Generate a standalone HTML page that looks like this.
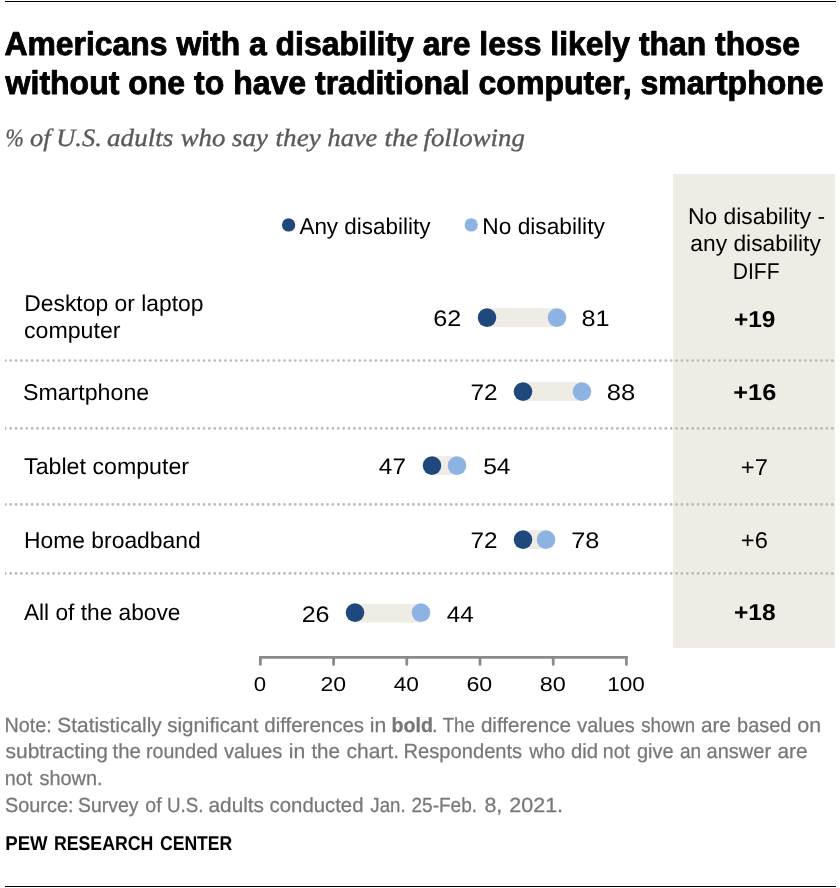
<!DOCTYPE html>
<html>
<head>
<meta charset="utf-8">
<title>Americans with a disability are less likely than those without one to have traditional computer, smartphone</title>
<style>
  html, body { margin: 0; padding: 0; background: #ffffff; }
  body { width: 840px; height: 888px; overflow: hidden; font-family: "Liberation Sans", sans-serif; }
  svg { display: block; will-change: transform; }
  text { font-family: "Liberation Sans", sans-serif; text-rendering: geometricPrecision; }
  .title { font-weight: bold; font-size: 33px; fill: #000000; stroke: #000000; stroke-width: 0.9px; stroke-linejoin: round; }
  .sub { font-family: "Liberation Serif", serif; font-style: italic; font-size: 25px; fill: #595959; stroke: #595959; stroke-width: 0.35px; }
  .lbl { font-size: 22.8px; fill: #000000; }
  .num { font-size: 22.5px; fill: #000000; }
  .tick { font-size: 20px; fill: #000000; }
  .diffb { font-size: 22.9px; font-weight: bold; fill: #000000; }
  .diff { font-size: 22.9px; fill: #000000; }
  .note { font-size: 20.5px; fill: #777777; stroke: #777777; stroke-width: 0.25px; }
  .pew { font-size: 19.9px; font-weight: bold; fill: #000000; }
</style>
</head>
<body>
<svg width="840" height="888" viewBox="0 0 840 888">
  <!-- top & bottom rules -->
  <rect x="5" y="1" width="831" height="1" fill="#000000"/>
  <rect x="5" y="886" width="831" height="1" fill="#000000"/>

  <!-- DIFF panel -->
  <rect x="673" y="174" width="162" height="474" fill="#efece5"/>

  <!-- dotted row separators -->
  <clipPath id="dotclip"><rect x="4.9" y="350" width="832" height="240"/></clipPath>
  <g stroke="#b7b7b7" stroke-width="2.67" stroke-linecap="round" stroke-dasharray="0 5.37" fill="none" clip-path="url(#dotclip)">
    <line x1="5.33" y1="360.5" x2="835" y2="360.5"/>
    <line x1="5.33" y1="428.4" x2="835" y2="428.4"/>
    <line x1="5.33" y1="504.4" x2="835" y2="504.4"/>
    <line x1="5.33" y1="573.4" x2="835" y2="573.4"/>
  </g>

  <!-- title -->
  <text id="t1" class="title" x="4.5" y="54.5" textLength="795.6" lengthAdjust="spacingAndGlyphs">Americans with a disability are less likely than those</text>
  <text id="t2" class="title" x="5.6" y="94.1" textLength="818" lengthAdjust="spacingAndGlyphs">without one to have traditional computer, smartphone</text>

  <!-- subtitle -->
  <text id="s0" class="sub" x="5.5" y="145.7" textLength="18.3" lengthAdjust="spacingAndGlyphs">%</text>
  <text id="s1" class="sub" x="30.0" y="145.7" textLength="20.6" lengthAdjust="spacingAndGlyphs">of</text>
  <text id="s2" class="sub" x="56.2" y="145.7" textLength="45.6" lengthAdjust="spacingAndGlyphs">U.S.</text>
  <text id="s3" class="sub" x="107.1" y="145.7" textLength="66.1" lengthAdjust="spacingAndGlyphs">adults</text>
  <text id="s4" class="sub" x="180.7" y="145.7" textLength="44.6" lengthAdjust="spacingAndGlyphs">who</text>
  <text id="s5" class="sub" x="232.1" y="145.7" textLength="35.8" lengthAdjust="spacingAndGlyphs">say</text>
  <text id="s6" class="sub" x="275.6" y="145.7" textLength="45.1" lengthAdjust="spacingAndGlyphs">they</text>
  <text id="s7" class="sub" x="327.5" y="145.7" textLength="49.8" lengthAdjust="spacingAndGlyphs">have</text>
  <text id="s8" class="sub" x="384.4" y="145.7" textLength="33.6" lengthAdjust="spacingAndGlyphs">the</text>
  <text id="s9" class="sub" x="423.5" y="145.7" textLength="101.3" lengthAdjust="spacingAndGlyphs">following</text>

  <!-- legend -->
  <circle cx="288.6" cy="224.95" r="6.65" fill="#1f497d"/>
  <text id="lg1" class="lbl" x="299.40" y="233.5" textLength="131.14" lengthAdjust="spacingAndGlyphs">Any disability</text>
  <circle cx="471.2" cy="224.95" r="6.65" fill="#8db3e2"/>
  <text id="lg2" class="lbl" x="482.25" y="233.5" textLength="122.60" lengthAdjust="spacingAndGlyphs">No disability</text>

  <!-- DIFF header -->
  <text id="dh1" class="lbl" x="688.05" y="224.1" textLength="136.98" lengthAdjust="spacingAndGlyphs">No disability -</text>
  <text id="dh2" class="lbl" x="690.30" y="250.6" textLength="130.52" lengthAdjust="spacingAndGlyphs">any disability</text>
  <text id="dh3" class="lbl" x="732.78" y="278.6" textLength="46.74" lengthAdjust="spacingAndGlyphs">DIFF</text>

  <!-- row labels -->
  <text id="r1a" class="lbl" x="24.25" y="311.0" textLength="179.19" lengthAdjust="spacingAndGlyphs">Desktop or laptop</text>
  <text id="r1b" class="lbl" x="23.98" y="337.6" textLength="96.50" lengthAdjust="spacingAndGlyphs">computer</text>
  <text id="r2" class="lbl" x="22.98" y="400.0" textLength="126.18" lengthAdjust="spacingAndGlyphs">Smartphone</text>
  <text id="r3" class="lbl" x="24.09" y="474.2" textLength="165.01" lengthAdjust="spacingAndGlyphs">Tablet computer</text>
  <text id="r4" class="lbl" x="24.04" y="548.0" textLength="176.67" lengthAdjust="spacingAndGlyphs">Home broadband</text>
  <text id="r5" class="lbl" x="23.90" y="620.0" textLength="156.60" lengthAdjust="spacingAndGlyphs">All of the above</text>

  <!-- connector bars -->
  <g fill="#efece5">
    <rect x="487" y="308.2" width="70" height="18.8"/>
    <rect x="523" y="382.2" width="59" height="18.8"/>
    <rect x="432" y="456.2" width="25" height="18.8"/>
    <rect x="523" y="530.2" width="23" height="18.8"/>
    <rect x="355" y="603.9" width="66" height="18.6"/>
  </g>
  <!-- dots -->
  <g fill="#1f497d">
    <circle cx="487" cy="317.6" r="9.3"/>
    <circle cx="523" cy="391.6" r="9.3"/>
    <circle cx="432" cy="465.6" r="9.3"/>
    <circle cx="523" cy="539.6" r="9.3"/>
    <circle cx="355" cy="612.6" r="9.3"/>
  </g>
  <g fill="#8db3e2">
    <circle cx="557" cy="317.6" r="9.3"/>
    <circle cx="582" cy="391.6" r="9.3"/>
    <circle cx="457" cy="465.6" r="9.3"/>
    <circle cx="546" cy="539.6" r="9.3"/>
    <circle cx="421" cy="612.6" r="9.3"/>
  </g>

  <!-- numbers -->
  <text id="n1l" class="num" x="433.18" y="325.9" textLength="27.97" lengthAdjust="spacingAndGlyphs">62</text>
  <text id="n1r" class="num" x="581.48" y="325.9" textLength="28.07" lengthAdjust="spacingAndGlyphs">81</text>
  <text id="n2l" class="num" x="470.52" y="399.7" textLength="27.09" lengthAdjust="spacingAndGlyphs">72</text>
  <text id="n2r" class="num" x="606.76" y="399.7" textLength="28.51" lengthAdjust="spacingAndGlyphs">88</text>
  <text id="n3l" class="num" x="378.86" y="473.9" textLength="27.05" lengthAdjust="spacingAndGlyphs">47</text>
  <text id="n3r" class="num" x="483.18" y="473.9" textLength="27.40" lengthAdjust="spacingAndGlyphs">54</text>
  <text id="n4l" class="num" x="470.52" y="547.7" textLength="26.99" lengthAdjust="spacingAndGlyphs">72</text>
  <text id="n4r" class="num" x="571.17" y="547.7" textLength="28.18" lengthAdjust="spacingAndGlyphs">78</text>
  <text id="n5l" class="num" x="301.69" y="621.8" textLength="27.86" lengthAdjust="spacingAndGlyphs">26</text>
  <text id="n5r" class="num" x="446.76" y="621.8" textLength="26.90" lengthAdjust="spacingAndGlyphs">44</text>

  <!-- diff values -->
  <text id="d1" class="diffb" x="733.93" y="326.8" textLength="41.47" lengthAdjust="spacingAndGlyphs">+19</text>
  <text id="d2" class="diffb" x="733.29" y="400.0" textLength="42.94" lengthAdjust="spacingAndGlyphs">+16</text>
  <text id="d3" class="diff" x="740.86" y="474.8" textLength="27.09" lengthAdjust="spacingAndGlyphs">+7</text>
  <text id="d4" class="diff" x="740.86" y="547.6" textLength="27.02" lengthAdjust="spacingAndGlyphs">+6</text>
  <text id="d5" class="diffb" x="733.93" y="620.2" textLength="41.71" lengthAdjust="spacingAndGlyphs">+18</text>

  <!-- axis -->
  <g stroke="#8a8a8a" stroke-width="2.75" fill="none">
    <path d="M260.4 657.4 H626.4" stroke-linecap="square"/>
    <path d="M260.4 657.4 V664.4 M333.6 657.4 V664.4 M406.8 657.4 V664.4 M480 657.4 V664.4 M553.2 657.4 V664.4 M626.4 657.4 V664.4" stroke-linecap="round"/>
  </g>
  <text id="a0" class="tick" x="253.77" y="690.55" textLength="12.32" lengthAdjust="spacingAndGlyphs">0</text>
  <text id="a20" class="tick" x="320.55" y="690.55" textLength="25.61" lengthAdjust="spacingAndGlyphs">20</text>
  <text id="a40" class="tick" x="393.73" y="690.55" textLength="25.21" lengthAdjust="spacingAndGlyphs">40</text>
  <text id="a60" class="tick" x="466.44" y="690.55" textLength="25.83" lengthAdjust="spacingAndGlyphs">60</text>
  <text id="a80" class="tick" x="539.82" y="690.55" textLength="26.05" lengthAdjust="spacingAndGlyphs">80</text>
  <text id="a100" class="tick" x="607.21" y="690.55" textLength="37.59" lengthAdjust="spacingAndGlyphs">100</text>

  <!-- notes -->
  <text class="note" x="4.6" y="731.8" textLength="47.1" lengthAdjust="spacingAndGlyphs">Note:</text>
  <text class="note" x="57.3" y="731.8" textLength="104.5" lengthAdjust="spacingAndGlyphs">Statistically</text>
  <text class="note" x="167.2" y="731.8" textLength="91.3" lengthAdjust="spacingAndGlyphs">significant</text>
  <text class="note" x="264.3" y="731.8" textLength="99.7" lengthAdjust="spacingAndGlyphs">differences</text>
  <text class="note" x="369.7" y="731.8" textLength="16.5" lengthAdjust="spacingAndGlyphs">in</text>
  <text class="note" font-weight="bold" x="391.5" y="731.8" textLength="41.4" lengthAdjust="spacingAndGlyphs">bold</text>
  <text class="note" x="432.0" y="731.8" textLength="5.6" lengthAdjust="spacingAndGlyphs">.</text>
  <text class="note" x="442.7" y="731.8" textLength="32.1" lengthAdjust="spacingAndGlyphs">The</text>
  <text class="note" x="480.9" y="731.8" textLength="90.0" lengthAdjust="spacingAndGlyphs">difference</text>
  <text class="note" x="577.3" y="731.8" textLength="57.4" lengthAdjust="spacingAndGlyphs">values</text>
  <text class="note" x="641.2" y="731.8" textLength="53.9" lengthAdjust="spacingAndGlyphs">shown</text>
  <text class="note" x="700.9" y="731.8" textLength="29.9" lengthAdjust="spacingAndGlyphs">are</text>
  <text class="note" x="737.1" y="731.8" textLength="54.2" lengthAdjust="spacingAndGlyphs">based</text>
  <text class="note" x="797.3" y="731.8" textLength="23.9" lengthAdjust="spacingAndGlyphs">on</text>
  <text class="note" x="5.5" y="758.4" textLength="102.5" lengthAdjust="spacingAndGlyphs">subtracting</text>
  <text class="note" x="112.5" y="758.4" textLength="28.3" lengthAdjust="spacingAndGlyphs">the</text>
  <text class="note" x="146.1" y="758.4" textLength="71.8" lengthAdjust="spacingAndGlyphs">rounded</text>
  <text class="note" x="224.0" y="758.4" textLength="58.4" lengthAdjust="spacingAndGlyphs">values</text>
  <text class="note" x="288.7" y="758.4" textLength="16.5" lengthAdjust="spacingAndGlyphs">in</text>
  <text class="note" x="311.4" y="758.4" textLength="28.6" lengthAdjust="spacingAndGlyphs">the</text>
  <text class="note" x="346.5" y="758.4" textLength="52.6" lengthAdjust="spacingAndGlyphs">chart.</text>
  <text class="note" x="403.5" y="758.4" textLength="118.7" lengthAdjust="spacingAndGlyphs">Respondents</text>
  <text class="note" x="529.3" y="758.4" textLength="35.8" lengthAdjust="spacingAndGlyphs">who</text>
  <text class="note" x="571.0" y="758.4" textLength="27.1" lengthAdjust="spacingAndGlyphs">did</text>
  <text class="note" x="602.8" y="758.4" textLength="27.2" lengthAdjust="spacingAndGlyphs">not</text>
  <text class="note" x="637.0" y="758.4" textLength="36.6" lengthAdjust="spacingAndGlyphs">give</text>
  <text class="note" x="680.0" y="758.4" textLength="21.2" lengthAdjust="spacingAndGlyphs">an</text>
  <text class="note" x="706.6" y="758.4" textLength="64.5" lengthAdjust="spacingAndGlyphs">answer</text>
  <text class="note" x="777.5" y="758.4" textLength="30.1" lengthAdjust="spacingAndGlyphs">are</text>
  <text class="note" x="4.8" y="785.1" textLength="27.5" lengthAdjust="spacingAndGlyphs">not</text>
  <text class="note" x="39.5" y="785.1" textLength="63.1" lengthAdjust="spacingAndGlyphs">shown.</text>
  <text class="note" x="5.0" y="811.8" textLength="68.5" lengthAdjust="spacingAndGlyphs">Source:</text>
  <text class="note" x="78.1" y="811.8" textLength="60.3" lengthAdjust="spacingAndGlyphs">Survey</text>
  <text class="note" x="145.3" y="811.8" textLength="16.3" lengthAdjust="spacingAndGlyphs">of</text>
  <text class="note" x="166.9" y="811.8" textLength="36.5" lengthAdjust="spacingAndGlyphs">U.S.</text>
  <text class="note" x="208.5" y="811.8" textLength="55.5" lengthAdjust="spacingAndGlyphs">adults</text>
  <text class="note" x="269.6" y="811.8" textLength="93.9" lengthAdjust="spacingAndGlyphs">conducted</text>
  <text class="note" x="370.3" y="811.8" textLength="35.3" lengthAdjust="spacingAndGlyphs">Jan.</text>
  <text class="note" x="411.5" y="811.8" textLength="65.5" lengthAdjust="spacingAndGlyphs">25-Feb.</text>
  <text class="note" x="484.4" y="811.8" textLength="17.9" lengthAdjust="spacingAndGlyphs">8,</text>
  <text class="note" x="509.3" y="811.8" textLength="53.8" lengthAdjust="spacingAndGlyphs">2021.</text>

  <!-- footer -->
  <text id="pw1" class="pew" x="5.23" y="850.0" textLength="42.44" lengthAdjust="spacingAndGlyphs">PEW</text>
  <text id="pw2" class="pew" x="53.89" y="850.0" textLength="99.45" lengthAdjust="spacingAndGlyphs">RESEARCH</text>
  <text id="pw3" class="pew" x="159.94" y="850.0" textLength="72.34" lengthAdjust="spacingAndGlyphs">CENTER</text>
</svg>
</body>
</html>
